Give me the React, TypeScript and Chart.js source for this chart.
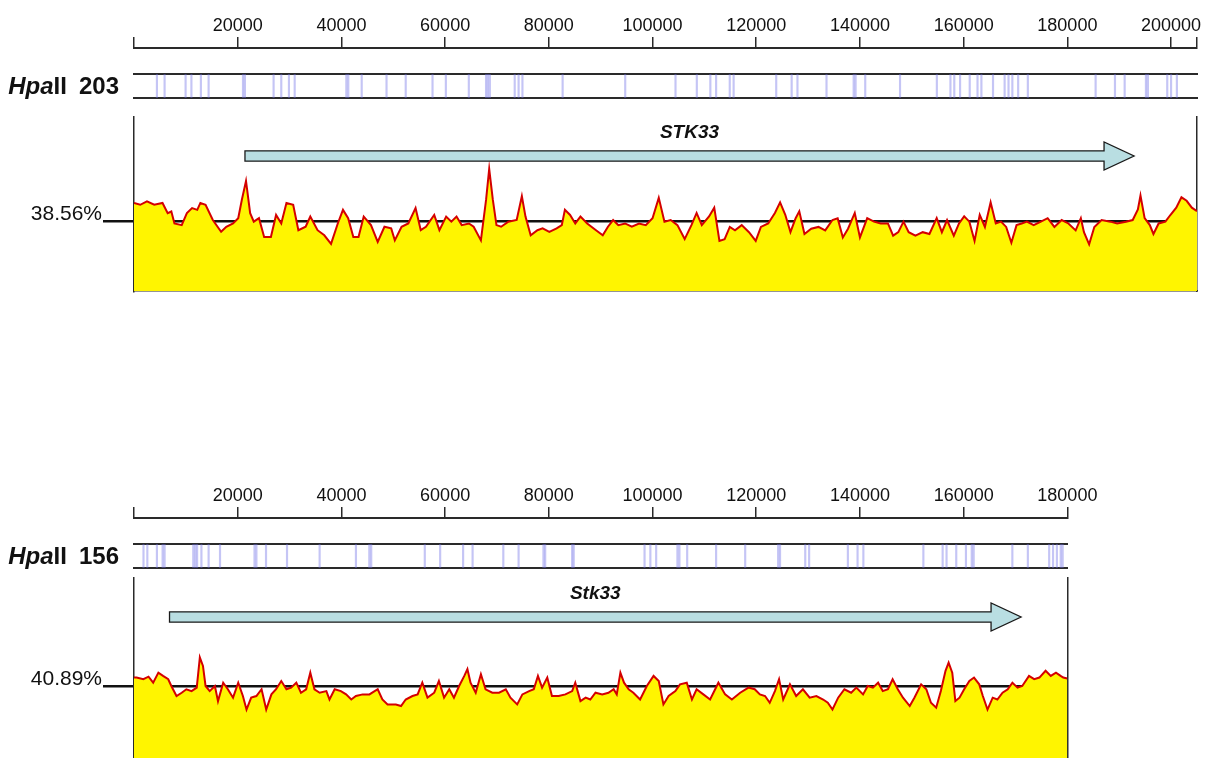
import React, { useEffect, useRef } from "react";
import { Chart, registerables } from "chart.js";

Chart.register(...registerables);

// ---------------- data ----------------
const TICK_STEP = 20000;

// Panel 1 (human STK33 region)
const LEN1 = 205000;
const MEAN1 = 38.56;
const SITE_COUNT1 = "203";
const GENE1 = { name: "STK33", start: 21400, end: 192860 };
const gcPos1 = [
  0, 1.2, 2.5, 3.9, 5.5, 6.5, 7.2, 7.8, 9.2, 10.2,
  11.2, 12.2, 12.8, 13.8, 15.2, 16.8, 17.8, 19.1, 20.1, 20.8,
  21.6, 22.4, 23.1, 24.1, 25.1, 26.4, 27.4, 28.4, 29.4, 30.7,
  31.7, 33.1, 34.0, 35.4, 36.7, 38.0, 39.3, 40.3, 41.3, 42.3,
  43.3, 44.3, 45.7, 47.0, 48.3, 49.6, 50.3, 51.6, 52.9, 54.3,
  55.3, 56.3, 57.9, 58.9, 60.2, 61.2, 62.2, 63.2, 64.6, 65.5,
  66.9, 67.9, 68.5, 69.2, 69.9, 70.8, 72.2, 73.8, 74.8, 75.5,
  76.5, 77.8, 78.8, 80.1, 81.5, 82.5, 83.1, 84.1, 85.1, 86.1,
  87.4, 89.1, 90.4, 91.4, 92.4, 93.4, 94.7, 96.0, 97.4, 98.7,
  100.0, 101.2, 102.3, 103.5, 104.8, 106.2, 107.5, 108.5, 109.5, 110.9,
  111.9, 112.9, 113.9, 114.9, 115.9, 117.2, 118.6, 119.9, 120.9, 122.3,
  123.6, 124.6, 125.6, 126.6, 127.6, 128.3, 129.3, 130.6, 132.0, 133.3,
  134.7, 135.7, 136.7, 137.7, 139.0, 140.0, 141.4, 142.7, 144.0, 145.4,
  146.4, 147.4, 148.4, 149.4, 150.7, 152.1, 153.4, 154.8, 155.8, 156.8,
  158.1, 159.1, 160.1, 161.1, 162.1, 163.1, 164.1, 165.2, 166.2, 167.2,
  168.2, 169.2, 170.2, 171.2, 172.2, 173.5, 174.9, 176.2, 177.5, 178.9,
  180.2, 181.6, 182.6, 183.2, 184.2, 185.2, 186.6, 188.3, 189.6, 191.3,
  192.6, 193.6, 194.1, 194.9, 195.9, 196.6, 197.6, 198.9, 199.9, 201.0,
  202.0, 203.0, 204.0, 205.0,
];
const gcVal1 = [
  48.5, 47.5, 49.4, 47.5, 48.5, 42.9, 43.8, 37.2, 36.3, 42.9,
  45.7, 44.7, 48.5, 47.5, 39.1, 32.6, 35.4, 37.2, 40.1, 50.3,
  60.6, 42.9, 38.2, 40.1, 29.8, 29.8, 41.9, 37.2, 48.5, 47.5,
  33.5, 35.4, 41.0, 33.5, 30.7, 26.0, 37.2, 44.7, 40.1, 29.8,
  29.8, 41.0, 36.3, 27.0, 35.4, 34.5, 27.9, 35.4, 37.2, 45.7,
  33.5, 35.4, 41.9, 33.5, 41.0, 38.2, 41.0, 36.3, 37.2, 35.4,
  27.9, 50.3, 67.2, 50.3, 36.3, 35.4, 38.2, 39.1, 52.2, 41.0,
  30.7, 33.5, 34.5, 32.6, 34.5, 36.3, 44.7, 41.9, 37.2, 41.0,
  37.2, 33.5, 30.7, 35.4, 39.1, 36.3, 37.2, 35.4, 37.2, 36.3,
  40.1, 51.3, 38.2, 39.1, 36.3, 28.6, 36.3, 43.0, 36.3, 41.1,
  45.9, 27.6, 28.6, 35.3, 33.4, 36.3, 32.4, 27.6, 35.3, 37.2,
  43.0, 48.8, 42.0, 32.4, 40.1, 43.9, 31.4, 34.3, 35.3, 33.4,
  39.1, 40.1, 29.5, 34.3, 43.0, 29.5, 40.1, 38.2, 37.2, 37.2,
  30.5, 32.4, 38.2, 32.4, 30.5, 32.4, 31.4, 40.1, 32.4, 39.1,
  30.5, 37.2, 41.1, 38.2, 27.6, 42.0, 35.3, 48.8, 37.2, 38.2,
  35.3, 26.6, 36.3, 37.2, 38.2, 36.3, 38.2, 40.1, 35.3, 39.1,
  37.2, 33.4, 40.1, 32.4, 25.7, 35.3, 39.1, 38.2, 37.2, 38.2,
  39.1, 44.9, 52.6, 40.1, 36.3, 31.4, 37.2, 38.2, 42.0, 45.9,
  51.6, 49.7, 45.9, 44.0,
];
const sites1 = [
  4420, 5900, 9950, 11070, 12900, 14390, 21020, 21390, 26920, 28400,
  29880, 30990, 40950, 41330, 43910, 48700, 52400, 57570, 60140, 64570,
  67890, 68250, 68630, 73420, 74170, 74910, 82660, 94730, 104430, 108540,
  111150, 112260, 114890, 115640, 123850, 126830, 127950, 133550, 138790, 139160,
  141020, 147730, 154830, 157450, 158190, 159310, 161170, 162670, 163420, 165660,
  167900, 168650, 169390, 170510, 172380, 185450, 189180, 191050, 195150, 195530,
  199260, 200000, 201120,
];

// Panel 2 (mouse Stk33 region)
const LEN2 = 180000;
const MEAN2 = 40.89;
const SITE_COUNT2 = "156";
const GENE2 = { name: "Stk33", start: 6850, end: 171070 };
const gcPos2 = [
  0, 0.5, 1.8, 2.8, 3.7, 4.7, 5.6, 6.6, 7.2, 8.2,
  9.2, 10.1, 11.1, 12.1, 12.7, 13.3, 13.8, 14.6, 15.6, 16.2,
  17.2, 18.1, 19.1, 20.1, 21.0, 21.7, 22.6, 23.6, 24.6, 25.5,
  26.5, 27.4, 28.4, 29.4, 30.3, 31.3, 32.2, 33.2, 34.0, 34.8,
  35.8, 37.1, 37.7, 38.7, 39.9, 40.9, 41.9, 42.8, 44.1, 45.4,
  47.0, 47.9, 48.9, 50.5, 51.5, 52.4, 53.7, 54.7, 55.6, 56.6,
  57.9, 58.8, 59.8, 60.8, 61.7, 62.7, 63.7, 64.3, 64.9, 65.9,
  66.9, 67.8, 69.1, 70.4, 71.7, 72.6, 73.9, 74.9, 76.2, 77.1,
  77.9, 78.7, 79.7, 80.6, 81.9, 83.2, 84.5, 85.1, 86.1, 87.1,
  88.0, 89.0, 90.3, 91.5, 92.5, 93.1, 93.8, 94.5, 95.4, 96.3,
  97.6, 98.9, 100.2, 101.2, 102.1, 103.1, 104.4, 105.3, 106.6, 107.6,
  108.5, 109.8, 111.1, 112.7, 114.0, 115.3, 116.9, 118.5, 119.7, 120.7,
  121.7, 122.6, 123.6, 124.4, 125.2, 126.5, 127.7, 129.0, 130.3, 131.6,
  132.9, 133.8, 134.7, 135.8, 137.0, 138.3, 139.3, 140.6, 141.5, 142.5,
  143.5, 144.4, 145.4, 146.3, 147.3, 148.3, 149.6, 150.5, 151.8, 152.8,
  153.7, 154.7, 155.6, 156.5, 157.1, 157.8, 158.4, 159.2, 160.1, 161.1,
  162.0, 163.0, 163.7, 164.6, 165.6, 166.5, 167.5, 168.5, 169.4, 170.4,
  171.3, 172.6, 173.6, 174.6, 175.8, 176.8, 177.8, 178.7, 179.2, 180.0,
];
const gcVal2 = [
  45.5, 45.5, 44.6, 46.0, 42.7, 48.2, 46.4, 44.6, 40.9, 35.4,
  37.2, 39.1, 38.1, 40.0, 56.5, 51.9, 40.9, 38.1, 40.9, 32.6,
  42.7, 39.1, 34.5, 42.7, 35.4, 28.0, 34.5, 35.4, 39.1, 28.0,
  36.3, 39.1, 43.6, 39.1, 40.0, 42.7, 37.2, 39.1, 48.2, 39.1,
  37.2, 38.1, 33.5, 39.1, 38.1, 36.3, 33.5, 35.4, 36.3, 36.3,
  39.1, 33.5, 30.8, 30.8, 29.9, 33.5, 35.4, 36.3, 42.7, 34.5,
  37.2, 43.6, 34.5, 39.1, 34.5, 40.9, 46.4, 50.1, 42.7, 37.2,
  47.3, 39.1, 37.2, 37.2, 39.1, 34.5, 30.8, 36.3, 38.1, 39.1,
  46.4, 40.0, 45.5, 35.4, 35.4, 36.3, 38.1, 42.7, 32.6, 34.5,
  33.5, 37.2, 36.3, 37.2, 39.1, 36.3, 48.2, 42.7, 39.1, 37.2,
  33.5, 40.9, 46.4, 43.6, 30.8, 35.4, 38.1, 41.8, 42.7, 33.5,
  39.1, 36.3, 33.5, 42.7, 36.3, 33.5, 37.2, 40.0, 39.1, 36.3,
  35.4, 31.7, 38.1, 44.6, 33.5, 41.8, 35.4, 39.1, 34.5, 35.4,
  33.5, 31.7, 28.0, 34.5, 39.1, 37.2, 40.0, 36.3, 40.9, 40.0,
  42.7, 38.1, 39.1, 44.6, 39.1, 34.5, 29.9, 34.5, 41.8, 39.1,
  31.7, 29.0, 38.1, 49.2, 53.7, 48.2, 32.6, 34.5, 39.1, 43.6,
  45.5, 41.8, 35.4, 28.0, 34.5, 33.5, 37.2, 39.1, 42.7, 40.0,
  40.9, 46.4, 44.6, 45.5, 49.2, 46.4, 48.2, 46.4, 45.5, 45.0,
];
const sites2 = [
  1830, 2570, 4420, 5520, 5900, 11430, 11800, 12170, 13000, 14390,
  16590, 23240, 23610, 25460, 29510, 35800, 42800, 45380, 45750, 56080,
  59040, 63470, 65300, 71220, 74170, 78960, 79300, 84490, 84800, 98460,
  99580, 100700, 104800, 105190, 106680, 112260, 117870, 124220, 124590, 129450,
  130200, 137670, 139540, 140660, 152230, 155950, 156700, 158570, 160440, 161560,
  161930, 169390, 172380, 176490, 177240, 177980, 178720, 179090,
];

// ---------------- layout / style ----------------
const W = 1207;
const H = 758;
const PLOT_LEFT = 134;
const PX_PER_BP = 1063 / 205000;
const FONT = "Arial, 'Liberation Sans', Helvetica, sans-serif";
const TEXT = "#111111";
const LINE = "#2a2a2a";

type PanelLayout = {
  rulerTop: number;
  sitesTop: number;
  gcTop: number;
  gcHeight: number;
  gcPadTop: number;
  gcPadBottom: number;
  yMax: number;
};

const LAYOUT1: PanelLayout = { rulerTop: 0, sitesTop: 60, gcTop: 100, gcHeight: 200, gcPadTop: 17, gcPadBottom: 9, yMax: 95.85 };
const LAYOUT2: PanelLayout = { rulerTop: 470, sitesTop: 530, gcTop: 560, gcHeight: 205, gcPadTop: 18, gcPadBottom: 4.3, yMax: 100 };

const rightPad = (len: number) => W - PLOT_LEFT - len * PX_PER_BP;

const baseOpts = {
  animation: false,
  responsive: false,
  maintainAspectRatio: false,
  events: [] as string[],
};

function rulerConfig(len: number): any {
  const tickValues: number[] = [0];
  for (let v = TICK_STEP; v <= len; v += TICK_STEP) tickValues.push(v);
  if (tickValues[tickValues.length - 1] !== len) tickValues.push(len);
  return {
    type: "line",
    data: { datasets: [] },
    options: {
      ...baseOpts,
      layout: { padding: { left: PLOT_LEFT, right: rightPad(len), top: 15.5, bottom: 2 } },
      plugins: { legend: { display: false }, tooltip: { enabled: false } },
      scales: {
        x: {
          type: "linear",
          position: "top",
          min: 0,
          max: len,
          offset: false,
          afterBuildTicks: (s: any) => {
            s.ticks = tickValues.map((v) => ({ value: v }));
          },
          ticks: {
            autoSkip: false,
            maxRotation: 0,
            padding: 0,
            color: TEXT,
            font: { family: FONT, size: 18 },
            callback: (v: number) => (v > 0 && v % TICK_STEP === 0 ? String(v) : ""),
          },
          grid: { display: true, drawOnChartArea: false, drawTicks: true, tickLength: 11, color: LINE, lineWidth: 1.5 },
          border: { display: true, color: LINE, width: 2 },
        },
        y: { display: false, min: 0, max: 1 },
      },
    },
  };
}

function sitesConfig(len: number, sites: number[], count: string): any {
  const labelPlugin = {
    id: "trackLabel",
    afterDraw(chart: any) {
      const { ctx, chartArea } = chart;
      const cy = (chartArea.top + chartArea.bottom) / 2 + 1;
      let x = chartArea.left - 15;
      ctx.save();
      ctx.fillStyle = TEXT;
      ctx.textBaseline = "middle";
      ctx.textAlign = "right";
      ctx.font = `bold 24px ${FONT}`;
      ctx.fillText(count, x, cy);
      x -= ctx.measureText(count).width + 12;
      ctx.fillText("II", x, cy);
      x -= ctx.measureText("II").width;
      ctx.font = `italic bold 24px ${FONT}`;
      ctx.fillText("Hpa", x, cy);
      ctx.restore();
    },
  };
  const edgeAxis = (position: string) => ({
    type: "linear",
    axis: "x",
    position,
    min: 0,
    max: len,
    offset: false,
    ticks: { display: false },
    grid: { display: false, offset: false },
    border: { display: true, color: LINE, width: 2 },
    afterFit: (s: any) => {
      s.height = 0;
    },
  });
  return {
    type: "bar",
    data: {
      datasets: [
        {
          data: sites.map((s) => ({ x: s, y: 1 })),
          backgroundColor: "rgba(110,110,230,0.4)",
          borderWidth: 0,
          barThickness: 1.5,
          grouped: false,
        },
      ],
    },
    options: {
      ...baseOpts,
      layout: { padding: { left: PLOT_LEFT, right: rightPad(len), top: 14, bottom: 12 } },
      plugins: { legend: { display: false }, tooltip: { enabled: false } },
      scales: {
        x: edgeAxis("bottom"),
        xTop: edgeAxis("top"),
        y: { display: false, min: 0, max: 1 },
      },
    },
    plugins: [labelPlugin],
  };
}

function gcConfig(
  len: number,
  pos: number[],
  vals: number[],
  mean: number,
  gene: { name: string; start: number; end: number },
  lay: PanelLayout
): any {
  const points = pos
    .map((p, i) => ({ x: p * 1000, y: vals[i] }))
    .filter((d) => typeof d.y === "number");
  const genePlugin = {
    id: "geneArrow",
    afterDatasetsDraw(chart: any) {
      const { ctx, chartArea } = chart;
      const xs = chart.scales.x;
      const x0 = xs.getPixelForValue(gene.start);
      const x1 = xs.getPixelForValue(gene.end);
      const cy = chartArea.top + 39;
      const hb = 5.2;
      const hh = 14;
      const hl = 30;
      ctx.save();
      ctx.beginPath();
      ctx.moveTo(x0, cy - hb);
      ctx.lineTo(x1 - hl, cy - hb);
      ctx.lineTo(x1 - hl, cy - hh);
      ctx.lineTo(x1, cy);
      ctx.lineTo(x1 - hl, cy + hh);
      ctx.lineTo(x1 - hl, cy + hb);
      ctx.lineTo(x0, cy + hb);
      ctx.closePath();
      ctx.fillStyle = "#b9dee2";
      ctx.fill();
      ctx.lineWidth = 1.3;
      ctx.strokeStyle = "#1a1a1a";
      ctx.stroke();
      ctx.fillStyle = TEXT;
      ctx.font = `italic bold 19px ${FONT}`;
      ctx.textAlign = "center";
      ctx.textBaseline = "middle";
      ctx.fillText(gene.name, (x0 + x1) / 2, chartArea.top + 16);
      ctx.restore();
    },
  };
  return {
    type: "line",
    data: {
      datasets: [
        {
          data: points,
          borderColor: "#d40000",
          borderWidth: 2,
          pointRadius: 0,
          tension: 0,
          fill: "start",
          backgroundColor: "#fff500",
        },
      ],
    },
    options: {
      ...baseOpts,
      layout: { padding: { left: 0, right: 0, top: lay.gcPadTop, bottom: lay.gcPadBottom } },
      plugins: { legend: { display: false }, tooltip: { enabled: false } },
      scales: {
        x: {
          type: "linear",
          min: 0,
          max: len,
          offset: false,
          ticks: { display: false },
          grid: { display: false },
          border: { display: true, color: LINE, width: 1.5 },
          afterFit: (s: any) => {
            s.height = 0;
          },
        },
        y: {
          type: "linear",
          position: "left",
          min: 0,
          max: lay.yMax,
          z: 1,
          afterBuildTicks: (s: any) => {
            s.ticks = [{ value: mean }];
          },
          ticks: {
            padding: 1,
            labelOffset: -7,
            color: TEXT,
            font: { family: FONT, size: 21 },
            callback: () => `${mean.toFixed(2)}%`,
          },
          grid: { display: true, drawOnChartArea: true, drawTicks: true, tickLength: 31, color: "#111", lineWidth: 2.5 },
          border: { display: true, color: LINE, width: 1.5 },
          afterFit: (s: any) => {
            s.width = PLOT_LEFT;
            s.paddingTop = 0;
            s.paddingBottom = 0;
          },
        },
        yRight: {
          type: "linear",
          position: "right",
          min: 0,
          max: lay.yMax,
          ticks: { display: false },
          grid: { display: false },
          border: { display: true, color: LINE, width: 1.5 },
          afterFit: (s: any) => {
            s.width = rightPad(len);
          },
        },
      },
    },
    plugins: [genePlugin],
  };
}

function ChartBox({ top, height, build }: { top: number; height: number; build: () => any }) {
  const ref = useRef<HTMLCanvasElement>(null);
  useEffect(() => {
    if (!ref.current) return;
    const chart = new Chart(ref.current, build());
    return () => chart.destroy();
  }, []);
  return (
    <canvas
      ref={ref}
      width={W}
      height={height}
      style={{ position: "absolute", left: 0, top, width: W, height, display: "block" }}
    />
  );
}

function Panel(props: {
  len: number;
  pos: number[];
  vals: number[];
  mean: number;
  sites: number[];
  count: string;
  gene: { name: string; start: number; end: number };
  lay: PanelLayout;
}) {
  const { len, pos, vals, mean, sites, count, gene, lay } = props;
  return (
    <>
      <ChartBox top={lay.rulerTop} height={100} build={() => rulerConfig(len)} />
      <ChartBox top={lay.sitesTop} height={50} build={() => sitesConfig(len, sites, count)} />
      <ChartBox top={lay.gcTop} height={lay.gcHeight} build={() => gcConfig(len, pos, vals, mean, gene, lay)} />
    </>
  );
}

export default function App() {
  return (
    <div
      style={{
        position: "absolute",
        left: 0,
        top: 0,
        width: W,
        height: H,
        overflow: "hidden",
        background: "#ffffff",
      }}
    >
      <Panel len={LEN1} pos={gcPos1} vals={gcVal1} mean={MEAN1} sites={sites1} count={SITE_COUNT1} gene={GENE1} lay={LAYOUT1} />
      <Panel len={LEN2} pos={gcPos2} vals={gcVal2} mean={MEAN2} sites={sites2} count={SITE_COUNT2} gene={GENE2} lay={LAYOUT2} />
    </div>
  );
}
